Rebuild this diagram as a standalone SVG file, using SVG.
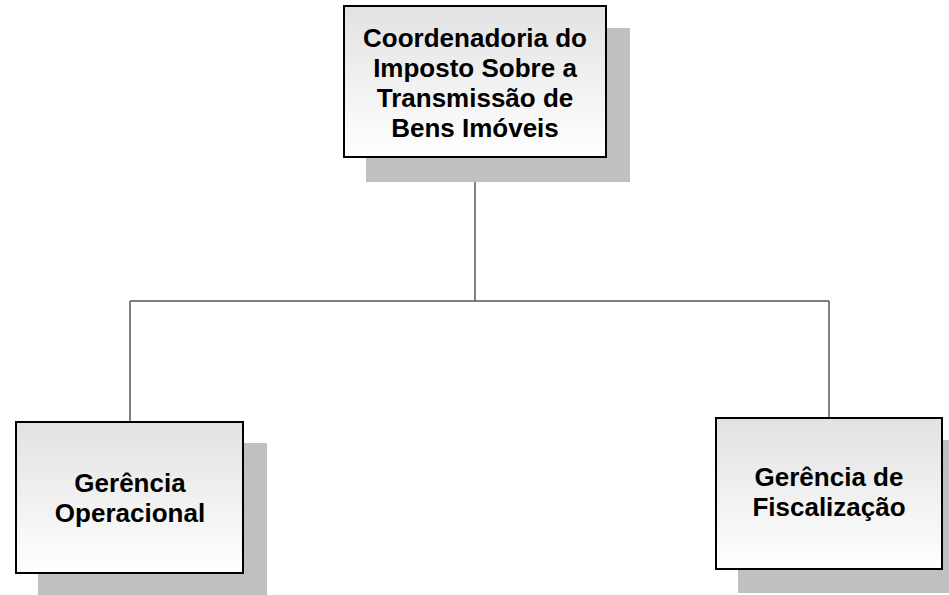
<svg xmlns="http://www.w3.org/2000/svg" width="949" height="595" viewBox="0 0 949 595">
<defs>
<linearGradient id="g" x1="0" y1="0" x2="0" y2="1">
<stop offset="0" stop-color="#e2e2e2"/>
<stop offset="1" stop-color="#ffffff"/>
</linearGradient>
<style>
.shadow{fill:#c0c0c0}
.box{fill:url(#g);stroke:#000;stroke-width:2}
.t{font-family:"Liberation Sans",Arial,sans-serif;font-weight:bold;font-size:26px;text-anchor:middle;fill:#000}
.c{fill:none;stroke:#555;stroke-width:1.5}
</style>
</defs>
<rect width="949" height="595" fill="#fff"/>
<g id="connectors">
<path class="c" d="M475 157 V301 M130 301 H829 M130 301 V422 M829 301 V418"/>
</g>
<g id="node-coordenadoria">
<rect class="shadow" x="366" y="28" width="264" height="154"/>
<rect class="box" x="344" y="6" width="262" height="151"/>
<text class="t" x="475" y="47">Coordenadoria do</text>
<text class="t" x="475" y="77">Imposto Sobre a</text>
<text class="t" x="475" y="107">Transmissão de</text>
<text class="t" x="475" y="137">Bens Imóveis</text>
</g>
<g id="node-operacional">
<rect class="shadow" x="38" y="443" width="229" height="152"/>
<rect class="box" x="16" y="422" width="227" height="151"/>
<text class="t" x="130" y="492">Gerência</text>
<text class="t" x="130" y="522">Operacional</text>
</g>
<g id="node-fiscalizacao">
<rect class="shadow" x="738" y="440" width="211" height="153"/>
<rect class="box" x="716" y="418" width="226" height="151"/>
<text class="t" x="829" y="486">Gerência de</text>
<text class="t" x="829" y="516">Fiscalização</text>
</g>
</svg>
